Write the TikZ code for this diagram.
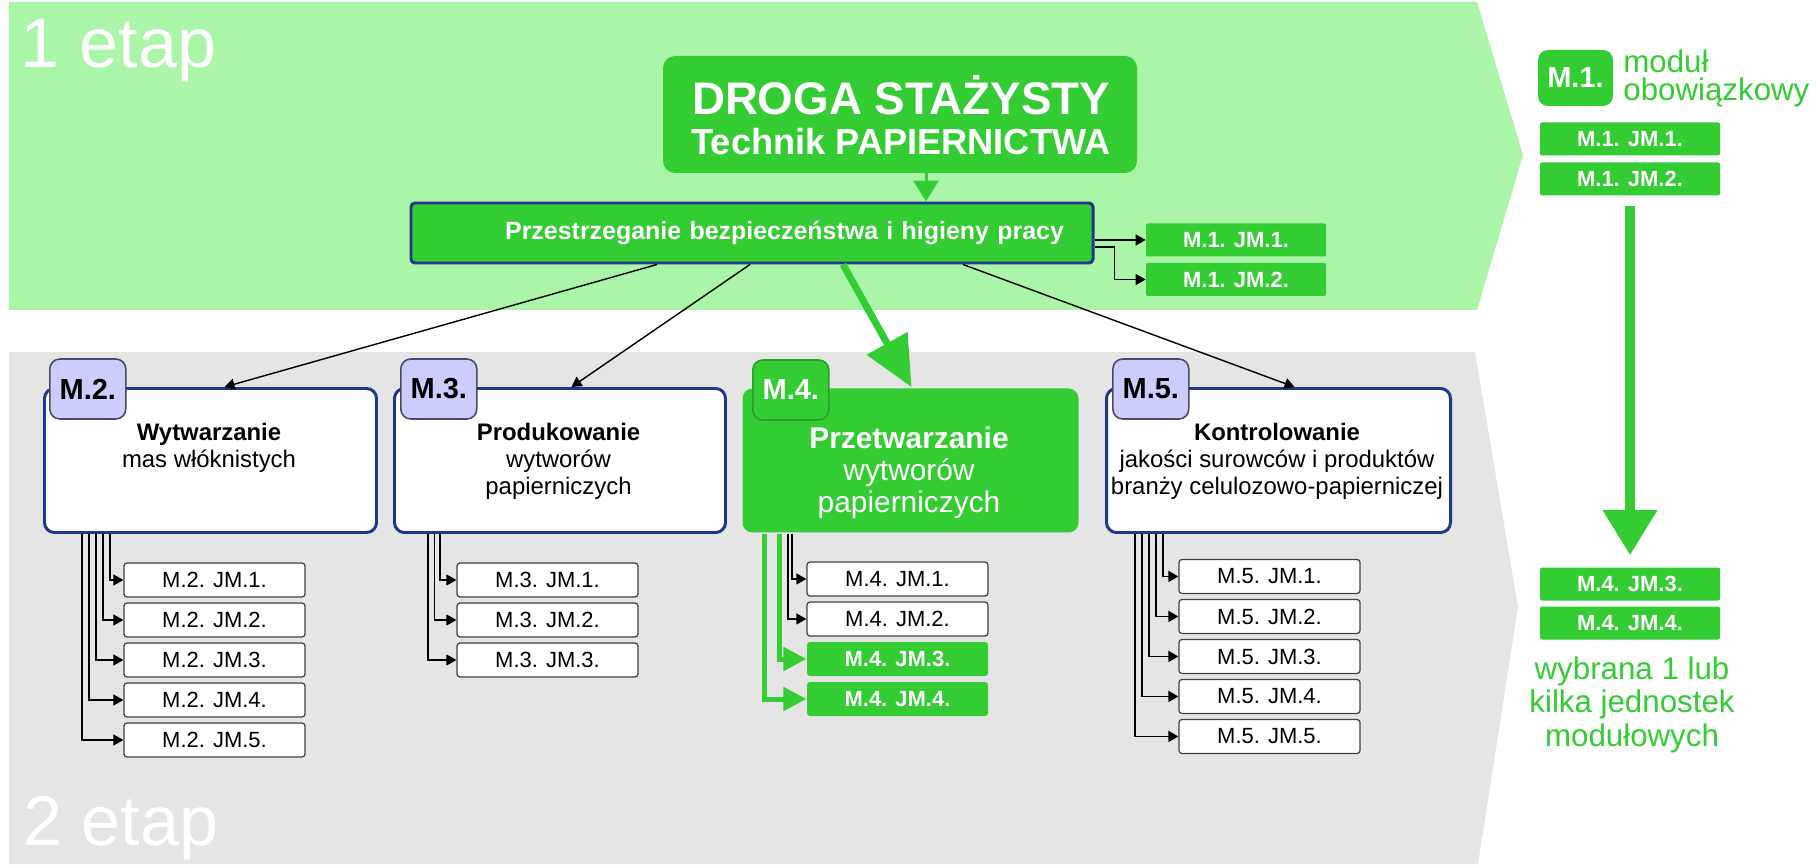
\documentclass[tikz,border=0pt]{standalone}
\usepackage{fontspec}
\setmainfont{Liberation Sans}
\usetikzlibrary{arrows.meta}
\definecolor{stagegreen}{RGB}{170,245,168}
\definecolor{stagegray}{RGB}{229,229,229}
\definecolor{jmgreen}{RGB}{51,204,51}
\definecolor{tabgreen}{RGB}{40,160,40}
\definecolor{boxnavy}{RGB}{31,56,135}
\definecolor{lavender}{RGB}{204,204,255}
\definecolor{tabline}{RGB}{75,75,95}
\newcommand{\jmfont}{\fontsize{12.5}{14}\selectfont}
\newcommand{\modfont}{\fontsize{13.6}{15.4}\selectfont}
\newcommand{\tabfont}{\fontsize{16.5}{18}\selectfont\bfseries}
\newcommand{\etapfont}{\fontsize{40}{42}\selectfont}

\begin{document}
\begin{tikzpicture}[
  modbox/.style={draw=boxnavy,line width=1.7pt,fill=white,rounded corners=0.2cm,minimum height=2.88cm,inner sep=0pt},
  modtab/.style={draw=tabline,line width=0.9pt,fill=lavender,rounded corners=0.2cm,minimum width=1.52cm,minimum height=1.2cm,inner sep=0pt,font=\tabfont},
  modtext/.style={anchor=north,align=center,inner sep=0pt,font=\modfont},
  jmbox/.style={draw=black!75,line width=0.7pt,fill=white,rounded corners=0.06cm,minimum width=3.62cm,minimum height=0.68cm,inner sep=0pt,font=\jmfont},
  greenjm/.style={fill=jmgreen,rounded corners=0.04cm,minimum width=3.6cm,minimum height=0.66cm,inner sep=0pt,text=white,font=\jmfont\bfseries},
  jmarrow/.style={line width=0.8pt,-{Triangle[length=0.2cm,width=0.22cm]}},
  greenarrow/.style={jmgreen,line width=0.1cm,-{Triangle[length=0.46cm,width=0.46cm]}},
  etap/.style={text=white,inner sep=0pt,font=\etapfont}
]
  \useasboundingbox (0,0) rectangle (36.32,17.28);
  % Stage 1
  \fill[stagegreen] (0.18,17.24) -- (29.54,17.24) -- (30.46,14.18) -- (29.54,11.08) -- (0.18,11.08) -- cycle;
  \node[etap,anchor=base west] (etap1) at (0.41,15.92) {1 etap};
  % Stage 2
  \fill[stagegray] (0.18,10.24) -- (29.5,10.24) -- (30.36,5.14) -- (29.56,0) -- (0.18,0) -- cycle;
  \node[etap,anchor=base west] (etap2) at (0.46,0.38) {2 etap};

  % Path head
  \node[fill=jmgreen,rounded corners=0.24cm,minimum width=9.48cm,minimum height=2.34cm] (droga) at (18.0,14.99) {};
  \node[anchor=base,text=white,font=\fontsize{26}{28}\selectfont\bfseries] (drogatop) at (18.02,14.98) {DROGA STAŻYSTY};
  \node[anchor=base,text=white,font=\fontsize{20.6}{22}\selectfont\bfseries] (drogabot) at (18.02,14.18) {Technik PAPIERNICTWA};
  \node[draw=boxnavy,line width=1.7pt,fill=jmgreen,rounded corners=0.08cm,minimum height=1.2cm,
        inner xsep=0.58cm,text width=12.48cm,align=right,text=white,
        font=\fontsize{14.2}{16}\selectfont\bfseries] (bhp) at (15.04,12.62) {Przestrzeganie bezpieczeństwa i higieny pracy};
  \draw[jmgreen,line width=0.06cm,-{Triangle[length=0.42cm,width=0.5cm]}] ([xshift=0.52cm]droga.south) -- ([xshift=0.52cm]droga.south |- bhp.north);
  \node[greenjm] (tj1) at (24.72,12.48) {M.1. JM.1.};
  \node[greenjm] (tj2) at (24.72,11.69) {M.1. JM.2.};
  \draw[jmarrow] (bhp.east |- tj1.west) -- (tj1.west);
  \draw[jmarrow] ([yshift=-0.28cm]bhp.east) -- ++(0.4,0) |- (tj2.west);

  % Legend
  \node[modtab,draw=none,fill=jmgreen,text=white,minimum width=1.5cm,minimum height=1.12cm] (m1tab) at (31.51,15.72) {M.1.};
  \node[anchor=north west,align=left,inner sep=0pt,text=jmgreen,font=\fontsize{17.8}{16}\selectfont] (m1note) at (32.46,16.3) {moduł\\obowiązkowy};
  \node[greenjm] (rj1) at (32.6,14.5) {M.1. JM.1.};
  \node[greenjm] (rj2) at (32.6,13.7) {M.1. JM.2.};
  \node[greenjm] (rj3) at (32.6,5.6) {M.4. JM.3.};
  \node[greenjm] (rj4) at (32.6,4.82) {M.4. JM.4.};
  \draw[jmgreen,line width=0.2cm,shorten <=0.2cm,shorten >=0.24cm,-{Triangle[length=0.9cm,width=1.04cm]}] (rj2.south) -- (rj3.north);
  \node[anchor=north,align=center,inner sep=0pt,text=jmgreen,font=\fontsize{17.8}{19.3}\selectfont] (pick) at (32.64,4.16) {wybrana 1 lub\\kilka jednostek\\modułowych};

  % M.2
  \begin{scope}[xshift=0.86cm]
    \node[modbox,minimum width=6.64cm,anchor=north west] (m2) at (0,9.54) {};
    \node[modtab,anchor=west] (m2tab) at (0.12,9.5) {M.2.};
    \node[modtext] (m2txt) at (3.32,8.82) {\textbf{Wytwarzanie}\\mas włóknistych};
    \node[jmbox] (m2j1) at (3.43,5.68) {M.2. JM.1.};
    \node[jmbox] (m2j2) at (3.43,4.88) {M.2. JM.2.};
    \node[jmbox] (m2j3) at (3.43,4.08) {M.2. JM.3.};
    \node[jmbox] (m2j4) at (3.43,3.28) {M.2. JM.4.};
    \node[jmbox] (m2j5) at (3.43,2.48) {M.2. JM.5.};
    \draw[jmarrow] ([xshift=1.34cm]m2.south west) |- (m2j1.west);
    \draw[jmarrow] ([xshift=1.20cm]m2.south west) |- (m2j2.west);
    \draw[jmarrow] ([xshift=1.06cm]m2.south west) |- (m2j3.west);
    \draw[jmarrow] ([xshift=0.92cm]m2.south west) |- (m2j4.west);
    \draw[jmarrow] ([xshift=0.78cm]m2.south west) |- (m2j5.west);
  \end{scope}
  % M.3
  \begin{scope}[xshift=7.86cm]
    \node[modbox,minimum width=6.62cm,anchor=north west] (m3) at (0,9.54) {};
    \node[modtab,anchor=west] (m3tab) at (0.14,9.5) {M.3.};
    \node[modtext] (m3txt) at (3.31,8.82) {\textbf{Produkowanie}\\wytworów\\papierniczych};
    \node[jmbox] (m3j1) at (3.09,5.68) {M.3. JM.1.};
    \node[jmbox] (m3j2) at (3.09,4.88) {M.3. JM.2.};
    \node[jmbox] (m3j3) at (3.09,4.08) {M.3. JM.3.};
    \draw[jmarrow] ([xshift=0.94cm]m3.south west) |- (m3j1.west);
    \draw[jmarrow] ([xshift=0.83cm]m3.south west) |- (m3j2.west);
    \draw[jmarrow] ([xshift=0.70cm]m3.south west) |- (m3j3.west);
  \end{scope}
  % M.4
  \begin{scope}[xshift=14.82cm]
    \node[modbox,draw=none,fill=jmgreen,minimum width=6.72cm,anchor=north west] (m4) at (0,9.54) {};
    \node[modtab,draw=tabgreen,fill=jmgreen,text=white,anchor=west] (m4tab) at (0.22,9.48) {M.4.};
    \node[modtext,text=white,font=\fontsize{17}{18.2}\selectfont] (m4txt) at (3.36,8.75) {\textbf{Przetwarzanie}\\wytworów\\papierniczych};
    \node[jmbox] (m4j1) at (3.13,5.70) {M.4. JM.1.};
    \node[jmbox] (m4j2) at (3.13,4.90) {M.4. JM.2.};
    \node[jmbox,draw=none,fill=jmgreen,text=white,font=\jmfont\bfseries] (m4j3) at (3.13,4.10) {M.4. JM.3.};
    \node[jmbox,draw=none,fill=jmgreen,text=white,font=\jmfont\bfseries] (m4j4) at (3.13,3.30) {M.4. JM.4.};
    \draw[jmarrow] ([xshift=1.02cm]m4.south west) |- (m4j1.west);
    \draw[jmarrow] ([xshift=0.94cm]m4.south west) |- (m4j2.west);
    \draw[greenarrow] ([xshift=0.76cm]m4.south west) |- (m4j3.west);
    \draw[greenarrow] ([xshift=0.46cm]m4.south west) |- (m4j4.west);
  \end{scope}
  % M.5
  \begin{scope}[xshift=22.1cm]
    \node[modbox,minimum width=6.88cm,anchor=north west] (m5) at (0,9.54) {};
    \node[modtab,anchor=west] (m5tab) at (0.14,9.5) {M.5.};
    \node[modtext] (m5txt) at (3.44,8.82) {\textbf{Kontrolowanie}\\jakości surowców i produktów\\branży celulozowo-papierniczej};
    \node[jmbox] (m5j1) at (3.29,5.75) {M.5. JM.1.};
    \node[jmbox] (m5j2) at (3.29,4.95) {M.5. JM.2.};
    \node[jmbox] (m5j3) at (3.29,4.15) {M.5. JM.3.};
    \node[jmbox] (m5j4) at (3.29,3.35) {M.5. JM.4.};
    \node[jmbox] (m5j5) at (3.29,2.55) {M.5. JM.5.};
    \draw[jmarrow] ([xshift=1.16cm]m5.south west) |- (m5j1.west);
    \draw[jmarrow] ([xshift=1.02cm]m5.south west) |- (m5j2.west);
    \draw[jmarrow] ([xshift=0.88cm]m5.south west) |- (m5j3.west);
    \draw[jmarrow] ([xshift=0.74cm]m5.south west) |- (m5j4.west);
    \draw[jmarrow] ([xshift=0.60cm]m5.south west) |- (m5j5.west);
  \end{scope}

  % Paths to modules
  \draw[jmarrow] ([xshift=-1.9cm]bhp.south) -- ([xshift=0.28cm]m2.north);
  \draw[jmarrow] ([xshift=-0.04cm]bhp.south) -- ([xshift=0.23cm]m3.north);
  \draw[jmarrow] ([xshift=4.22cm]bhp.south) -- ([xshift=0.32cm]m5.north);
  \draw[jmgreen,line width=0.14cm,-{Triangle[length=1.0cm,width=0.9cm]}] ([xshift=1.82cm]bhp.south) -- ([xshift=0.02cm]m4.north);
\end{tikzpicture}
\end{document}
